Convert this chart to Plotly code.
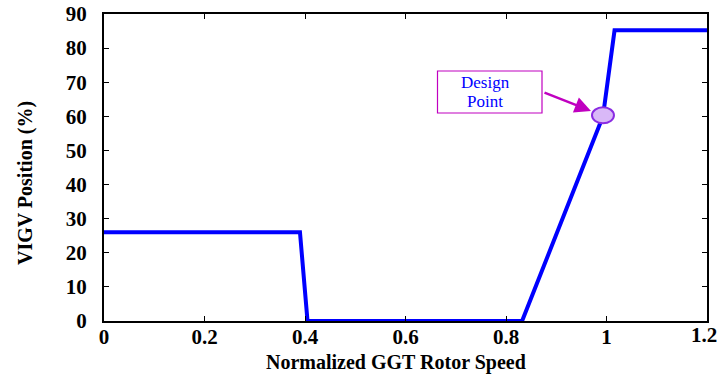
import plotly.graph_objects as go

# Data
speed = [0.0, 0.39, 0.405, 0.832, 0.993, 1.016, 1.2]
vigv = [26.0, 26.0, 0.0, 0.0, 60.0, 85.2, 85.2]
design_x, design_y = 0.993, 60.3
x_ticks = [0, 0.2, 0.4, 0.6, 0.8, 1, 1.2]
x_ticklabels = ["0", "0.2", "0.4", "0.6", "0.8", "1", "1.2"]
y_ticks = [0, 10, 20, 30, 40, 50, 60, 70, 80, 90]

FONT = "Liberation Serif"
W, H = 717, 379
L, R, T, B = 104, 10, 14, 58
pw, ph = W - L - R, H - T - B

def px(xp):
    return (xp - L) / pw

def py(yp):
    return (H - B - yp) / ph

tickfont = dict(family=FONT, size=21, color="black", weight="bold")

fig = go.Figure()
fig.add_trace(go.Scatter(x=speed, y=vigv, mode="lines",
                         line=dict(color="#0000ff", width=4),
                         showlegend=False, hoverinfo="skip"))

axis_common = dict(showgrid=False, zeroline=False, showline=True,
                   linecolor="black", linewidth=2, mirror="ticks",
                   ticks="inside", ticklen=5, tickwidth=1.2, tickcolor="black",
                   automargin=False, tickfont=tickfont)

# last x tick label is placed as an annotation so it stays inside the page
fig.update_xaxes(range=[0, 1.2 + 1e-9], tickvals=x_ticks,
                 ticktext=x_ticklabels[:-1] + [""],
                 ticklabelstandoff=-4, **axis_common)
fig.update_yaxes(range=[0, 90 + 1e-9], tickvals=y_ticks, ticklabelstandoff=11,
                 **axis_common)

# Design point ellipse
fig.add_shape(type="circle", xref="x", yref="y",
              xsizemode="pixel", ysizemode="pixel",
              xanchor=design_x, yanchor=design_y,
              x0=-11, x1=11, y0=-8, y1=8,
              fillcolor="#d9b8f7", line=dict(color="#8a2be2", width=2))

# Label box
fig.add_shape(type="rect", xref="paper", yref="paper",
              x0=px(437.5), x1=px(542), y0=py(113), y1=py(71),
              line=dict(color="#c000c0", width=1.2), fillcolor="white")

annotations = [
    dict(text="Design", x=px(485), y=py(82.5), xref="paper", yref="paper",
         showarrow=False, xanchor="center", yanchor="middle", borderpad=0,
         font=dict(family=FONT, size=17, color="#0000ff")),
    dict(text="Point", x=px(485), y=py(101), xref="paper", yref="paper",
         showarrow=False, xanchor="center", yanchor="middle", borderpad=0,
         font=dict(family=FONT, size=17, color="#0000ff")),
    dict(text="", x=px(591), y=py(111), xref="paper", yref="paper",
         ax=-48, ay=-19, axref="pixel", ayref="pixel",
         showarrow=True, arrowhead=2, arrowsize=1.3, arrowwidth=2.5,
         arrowcolor="#c000c0", standoff=0),
    dict(text=x_ticklabels[-1], x=px(703.5), y=py(335), xref="paper", yref="paper",
         showarrow=False, xanchor="center", yanchor="middle", borderpad=0,
         font=tickfont),
    dict(text="Normalized GGT Rotor Speed", x=px(395.5), y=py(362),
         xref="paper", yref="paper", showarrow=False,
         xanchor="center", yanchor="middle",
         font=dict(family=FONT, size=20, color="black", weight="bold")),
    dict(text="VIGV Position (%)", x=px(25), y=py(183),
         xref="paper", yref="paper", showarrow=False, textangle=-90,
         xanchor="center", yanchor="middle",
         font=dict(family=FONT, size=20, color="black", weight="bold")),
]
fig.update_layout(annotations=annotations)

fig.update_layout(width=W, height=H, margin=dict(l=L, r=R, t=T, b=B),
                  plot_bgcolor="white", paper_bgcolor="white")

fig.write_html("out.html")
